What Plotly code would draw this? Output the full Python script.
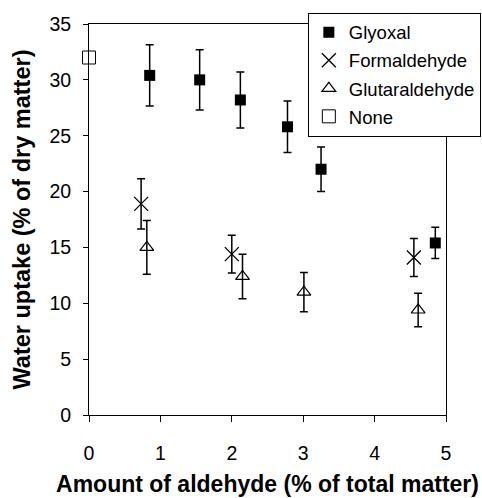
import plotly.graph_objects as go

# Data
gly_x = [0.85, 1.55, 2.12, 2.78, 3.25, 4.85]
gly_y = [30.4, 30.0, 28.2, 25.8, 22.0, 15.4]
gly_err = [2.75, 2.7, 2.5, 2.3, 2.0, 1.4]

form_x = [0.73, 2.0, 4.55]
form_y = [18.9, 14.4, 14.1]
form_err = [2.25, 1.7, 1.7]

glut_x = [0.81, 2.15, 3.01, 4.61]
glut_y = [15.0, 12.4, 11.0, 9.4]
glut_err = [2.4, 2.0, 1.75, 1.5]

none_x = [0]
none_y = [32.0]

FONT = "Liberation Sans, Arial, sans-serif"

fig = go.Figure()

def err(vals):
    return dict(type="data", array=vals, visible=True, color="black", thickness=1.5, width=4)

fig.add_trace(go.Scatter(x=gly_x, y=gly_y, mode="markers", name="Glyoxal",
                         legendgroup="a",
                         marker=dict(symbol="square", size=11, color="black"),
                         error_y=err(gly_err)))
fig.add_trace(go.Scatter(x=form_x, y=form_y, mode="markers", name="Formaldehyde",
                         legendgroup="b",
                         marker=dict(symbol="x-thin-open", size=14, color="black",
                                     line=dict(color="black", width=1.3)),
                         error_y=err(form_err)))
fig.add_trace(go.Scatter(x=glut_x, y=glut_y, mode="markers", name="Glutaraldehyde",
                         legendgroup="c",
                         marker=dict(symbol="triangle-up-open", size=12, color="black",
                                     line=dict(color="black", width=1.2)),
                         error_y=err(glut_err)))
fig.add_trace(go.Scatter(x=none_x, y=none_y, mode="markers", name="None",
                         legendgroup="d", cliponaxis=False,
                         marker=dict(symbol="square-open", size=13, color="black",
                                     line=dict(color="black", width=1)),
                         ))

fig.update_layout(
    width=482, height=498,
    margin=dict(l=89, r=36, t=24, b=83, autoexpand=False),
    paper_bgcolor="white", plot_bgcolor="white",
    font=dict(family=FONT, size=19, color="black"),
    showlegend=True,
    legend=dict(x=0.613, xanchor="left", y=1.029, yanchor="top",
                bgcolor="white", bordercolor="black", borderwidth=1,
                font=dict(family=FONT, size=18.5, color="black"),
                tracegroupgap=1, itemwidth=30),
    xaxis=dict(range=[0, 5], dtick=1, showgrid=False, zeroline=False,
               showline=True, linecolor="black", linewidth=1, mirror=True,
               ticks="outside", ticklen=6, tickcolor="black",
               ticklabelstandoff=15,
               tickfont=dict(family=FONT, size=19.5),
               title=dict(text="<b>Amount of aldehyde (% of total matter)</b>",
                          font=dict(family=FONT, size=23), standoff=12)),
    yaxis=dict(range=[0, 35], dtick=5, showgrid=False, zeroline=False,
               showline=True, linecolor="black", linewidth=1, mirror=True,
               ticks="outside", ticklen=5, tickcolor="black",
               ticklabelstandoff=8,
               tickfont=dict(family=FONT, size=19.5),
               title=dict(text="<b>Water uptake (% of dry matter)</b>",
                          font=dict(family=FONT, size=23.5), standoff=12)),
)

fig.write_html("out.html")
